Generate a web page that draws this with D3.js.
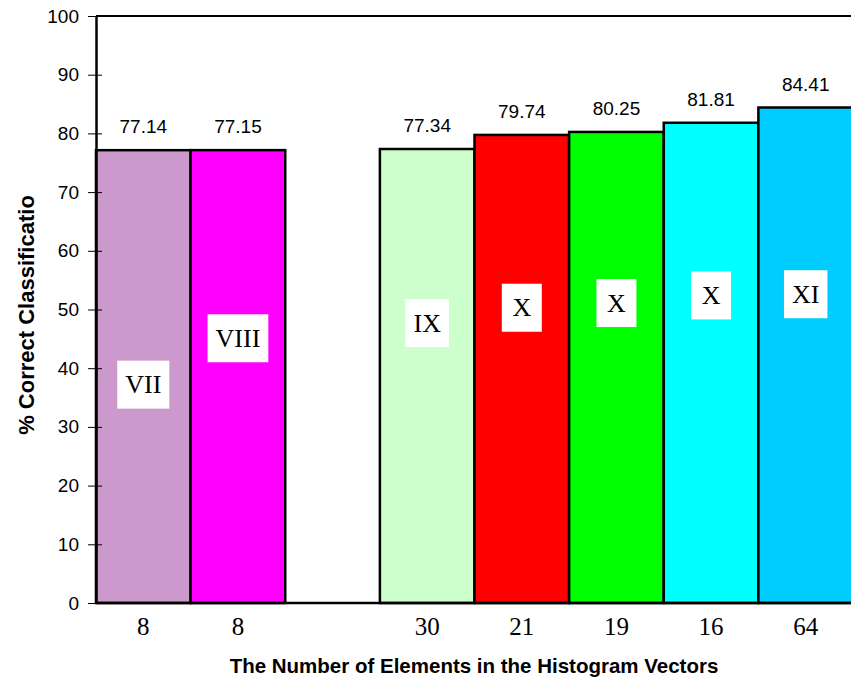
<!DOCTYPE html>
<html>
<head>
<meta charset="utf-8">
<script src="https://cdn.jsdelivr.net/npm/d3@7"></script>
<style>
  html, body { margin: 0; padding: 0; background: #fff; }
  svg { display: block; }
</style>
</head>
<body>
<svg id="chart" width="851" height="681"></svg>
<script>
// Histogram-vector sizes per configuration (one empty slot separates the groups)
const slots = ["a", "b", "gap", "c", "d", "e", "f", "g"];
const categories = ["a", "b", "c", "d", "e", "f", "g"];
const tickLabels = ["8", "8", "30", "21", "19", "16", "64"];
const values = [77.14, 77.15, 77.34, 79.74, 80.25, 81.81, 84.41];
const romans = ["VII", "VIII", "IX", "X", "X", "X", "XI"];
const romanAt = [37.2, 45.1, 47.7, 50.3, 51.1, 52.4, 52.6];
const colors = ["#CC99CC", "#FF00FF", "#CCFFCC", "#FF0000", "#00FF00", "#00FFFF", "#00CCFF"];
const yTicks = [0, 10, 20, 30, 40, 50, 60, 70, 80, 90, 100];

const sans = "Liberation Sans, Arial, sans-serif";
const serif = "Liberation Serif, Times New Roman, serif";

const svg = d3.select("#chart");
const margin = { left: 96, top: 16, bottom: 603, right: 853 };

const x = d3.scaleBand().domain(slots).range([margin.left, margin.right]).padding(0);
const y = d3.scaleLinear().domain([0, 100]).range([margin.bottom, margin.top]);

const data = categories.map((c, i) => ({
  cat: c, label: tickLabels[i], value: values[i], roman: romans[i], at: romanAt[i], color: colors[i]
}));

// Bars
svg.append("g").selectAll("rect").data(data).join("rect")
  .attr("x", d => x(d.cat))
  .attr("y", d => y(d.value))
  .attr("width", x.bandwidth())
  .attr("height", d => y(0) - y(d.value))
  .attr("fill", d => d.color)
  .attr("stroke", "#000")
  .attr("stroke-width", 2.5);

// Frame: top and bottom edges
svg.append("line").attr("x1", margin.left).attr("x2", 851)
  .attr("y1", y(100)).attr("y2", y(100)).attr("stroke", "#000").attr("stroke-width", 2);
svg.append("line").attr("x1", margin.left).attr("x2", 851)
  .attr("y1", y(0)).attr("y2", y(0)).attr("stroke", "#000").attr("stroke-width", 2.5);

// Y axis with ticks crossing the axis line
const yAxis = d3.axisLeft(y).tickValues(yTicks).tickSize(0).tickPadding(17);
const yg = svg.append("g").attr("transform", `translate(${margin.left},0)`).call(yAxis);
yg.select(".domain").attr("stroke", "#000").attr("stroke-width", 2.5);
yg.selectAll(".tick text")
  .attr("font-family", sans)
  .attr("font-size", 19).attr("fill", "#000");
yg.selectAll(".tick").append("line")
  .attr("x1", -8).attr("x2", 6).attr("stroke", "#000").attr("stroke-width", 1);

// X axis category labels
const xAxis = d3.axisBottom(x).tickSize(0).tickPadding(14)
  .tickFormat(s => { const i = categories.indexOf(s); return i >= 0 ? tickLabels[i] : ""; });
const xg = svg.append("g").attr("transform", `translate(0,${y(0)})`).call(xAxis);
xg.select(".domain").remove();
xg.selectAll(".tick text")
  .attr("font-family", serif)
  .attr("font-size", 25).attr("fill", "#000");

// Value labels above bars
svg.append("g").selectAll("text").data(data).join("text")
  .attr("x", d => x(d.cat) + x.bandwidth() / 2)
  .attr("y", d => y(d.value) - 17)
  .attr("text-anchor", "middle")
  .attr("font-family", sans)
  .attr("font-size", 19)
  .text(d => d.value.toFixed(2));

// Roman numeral tags in white boxes
const tags = svg.append("g").selectAll("g").data(data).join("g")
  .attr("transform", d => `translate(${x(d.cat) + x.bandwidth() / 2},${y(d.at)})`);
tags.append("text")
  .attr("text-anchor", "middle")
  .attr("dy", "0.33em")
  .attr("font-family", serif)
  .attr("font-size", 26)
  .text(d => d.roman);
tags.each(function () {
  const g = d3.select(this);
  const bb = g.select("text").node().getBBox();
  const w = Math.max(40, bb.width + 16);
  g.insert("rect", "text")
    .attr("x", -w / 2).attr("y", -24)
    .attr("width", w).attr("height", 48)
    .attr("fill", "#fff");
});

// Axis titles
svg.append("text")
  .attr("x", 474).attr("y", 673)
  .attr("text-anchor", "middle")
  .attr("font-family", sans)
  .attr("font-weight", "bold").attr("font-size", 20.5)
  .text("The Number of Elements in the Histogram Vectors");
svg.append("text")
  .attr("transform", "translate(34,315) rotate(-90)")
  .attr("text-anchor", "middle")
  .attr("font-family", sans)
  .attr("font-weight", "bold").attr("font-size", 22)
  .text("% Correct Classificatio");
</script>
</body>
</html>
